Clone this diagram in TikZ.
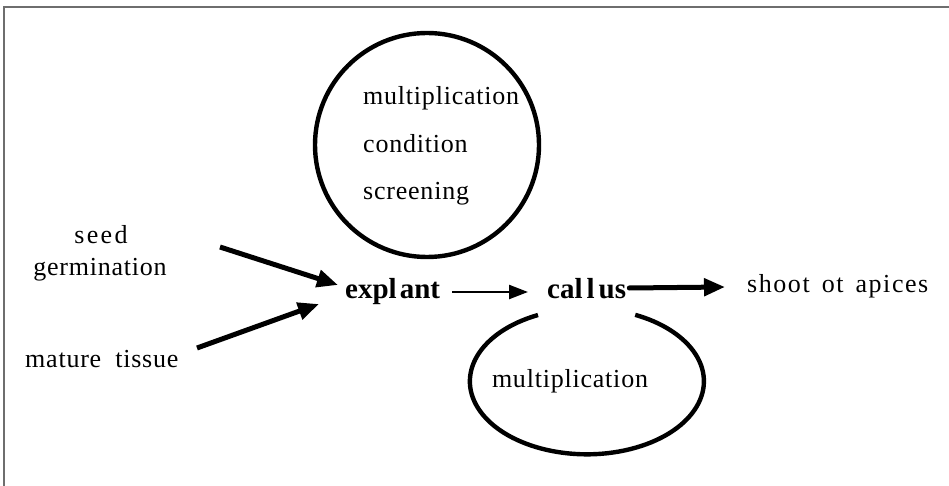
\documentclass[tikz,border=0pt]{standalone}
\usepackage{fontspec}
\setmainfont{Liberation Serif}
\usetikzlibrary{arrows.meta}
\newcommand{\regtext}{\fontsize{26}{30}\selectfont\addfontfeature{LetterSpace=3}}
\newcommand{\boldtext}{\fontsize{29}{33}\selectfont\bfseries}
\begin{document}
\begin{tikzpicture}[x=1pt,y=-1pt,
  lbl/.style={inner sep=0pt,font=\regtext},
  blbl/.style={inner sep=0pt,font=\boldtext},
  thickarrow/.style={line width=5pt,-{Triangle[length=21pt,width=17pt]}},
  thinarrow/.style={line width=2.4pt,-{Triangle[length=19pt,width=14pt]}},
  loopline/.style={line width=4.4pt},
  frameline/.style={line width=1.5pt,draw={rgb,255:red,110;green,110;blue,110}}]
\useasboundingbox (0,0) rectangle (949,486);
% frame
\draw[frameline] (4,486) -- (4,7) -- (949,7);
% text nodes
\node[lbl,anchor=base,font=\regtext\addfontfeature{LetterSpace=9}] (seed) at (101,243) {seed};
\node[lbl,anchor=base] (germ) at (100,275) {germination};
\node[lbl,anchor=base west] (mature) at (25,367) {mature\hspace{14pt}tissue};
\node[blbl,anchor=base west] (explant) at (345,298) {expl\kern3pt ant};
\node[blbl,anchor=base west] (callus) at (547,298) {cal\kern4pt l\kern4pt us};
\node[lbl,anchor=base west,font=\regtext\addfontfeature{LetterSpace=6}] (shoot) at (747,292) {shoot\hspace{12pt}ot\hspace{12pt}apices};
% top circle
\draw[loopline] (427,145) ellipse [x radius=112, y radius=112];
\node[lbl,anchor=base west] (m1) at (363,105) {multiplication};
\node[lbl,anchor=base west] (c1) at (363,153) {condition};
\node[lbl,anchor=base west] (s1) at (363,200) {screening};
% bottom loop
\draw[loopline] (538,315) arc[start angle=245.3, end angle=-65.6, x radius=117, y radius=73];
\node[lbl,anchor=base] (m2) at (570,387) {multiplication};
% connector end points
\coordinate (seedend) at (220,247);
\coordinate (seedtip) at (338,285);
\coordinate (matend) at (197,348);
\coordinate (mattip) at (319,304);
\draw[thickarrow] (seedend) -- (seedtip);
\draw[thickarrow] (matend) -- (mattip);
\draw[thinarrow] ([xshift=12pt]explant.east |- 0,292) -- ([xshift=-19pt]callus.west |- 0,292);
\draw[thickarrow,line cap=round] ([xshift=3pt]callus.east |- 0,288) -- ([xshift=-22pt]shoot.west |- 0,287);
\end{tikzpicture}
\end{document}
